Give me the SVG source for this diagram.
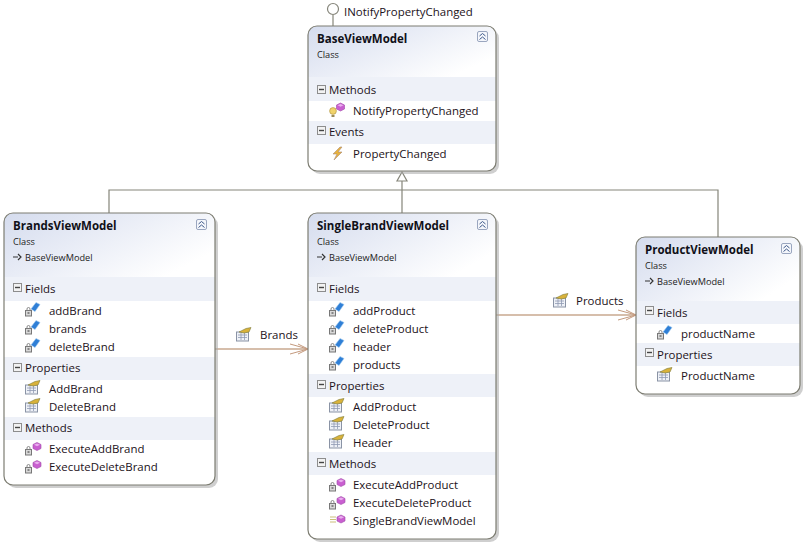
<svg xmlns="http://www.w3.org/2000/svg" width="807" height="545" viewBox="0 0 807 545">
<style>
text{font-family:"Open Sans","Noto Sans","Liberation Sans",sans-serif;font-size:11.45px;fill:#1c1220}
.t{font-size:11.5px;font-weight:700;fill:#101018}
.s{font-size:9.2px;fill:#222}
.box{fill:none;stroke:#7d7d72;stroke-width:1.2}
.shadow{fill:#a8a8a8;opacity:.55}
.band{fill:#eef1f8}
.inh{fill:none;stroke:#85857a;stroke-width:1.2}
.assoc{fill:none;stroke:#c9a88f;stroke-width:1.6}
.head{fill:none;stroke:#c49a7e;stroke-width:1}
.btn{fill:#f4f6fb;stroke:#9aa6bf;stroke-width:1}
.chev{fill:none;stroke:#3f5a8a;stroke-width:1}
</style>
<defs>
<linearGradient id="hd" x1="0" y1="0" x2="1" y2="0.6"><stop offset="0" stop-color="#d5dcee"/><stop offset="1" stop-color="#ffffff"/></linearGradient>
<symbol id="collapse" overflow="visible"><rect class="btn" x="0.5" y="0.5" width="10" height="10" rx="1.5"/><path class="chev" d="M2.5 5 5.500 2.500 8.500 5M2.500 8.500 5.500 6 8.500 8.500"/></symbol>
<symbol id="minus" overflow="visible"><rect x="0.5" y="0.5" width="8" height="8" fill="#f2f2f2" stroke="#8d8d8d"/><path d="M2 4.500H7" stroke="#444" stroke-width="1.400"/></symbol>
<symbol id="lock" overflow="visible"><rect x="0.5" y="3.500" width="6" height="5.500" fill="#d8d8d8" stroke="#777"/><path d="M2 3.500V2A1.500 1.500 0 0 1 5 2V3.500" fill="none" stroke="#888"/><path d="M2.500 6H4.500" stroke="#333"/></symbol>
<symbol id="field" overflow="visible"><use href="#lock" x="0" y="5"/><path d="M6 7 11 0.500 15 2.500 10 9.500Z" fill="#2f7fd6" stroke="#9cc7ee" stroke-width="0.600"/></symbol>
<symbol id="prop" overflow="visible"><rect x="0.500" y="5" width="12" height="9" fill="#eef1f7" stroke="#8a93a5"/><path d="M2 8H11M2 10.500H11M5 6V13M8.500 6V13" stroke="#8f9bb2" stroke-width="0.800"/><path d="M3 5 10 1.500 15 0.500 13 5 8 6Z" fill="#d9b23a" stroke="#7c7a3a" stroke-width="0.600"/></symbol>
<symbol id="cube" overflow="visible"><path d="M4 0 8 2V6L4 8 0 6V2Z" fill="#c95fd0" stroke="#a04aa8" stroke-width="0.600"/><path d="M4 1 7 2.300 4 3.800 1 2.300Z" fill="#eab0ef"/></symbol>
<symbol id="pmeth" overflow="visible"><use href="#lock" x="0" y="4"/><use href="#cube" x="8" y="0.500"/></symbol>
<symbol id="ctor" overflow="visible"><path d="M1 3H7M1 5.500H7M1 8H7" stroke="#cbbf7a" stroke-width="1"/><use href="#cube" x="8" y="1"/></symbol>
<symbol id="bulb" overflow="visible"><circle cx="4" cy="8" r="3.400" fill="#f1d36a" stroke="#a98f3c" stroke-width="0.600"/><path d="M2.500 12H5.500V14H2.500Z" fill="#9a8a58"/><use href="#cube" x="7.500" y="0"/></symbol>
<symbol id="bolt" overflow="visible"><path d="M9 0 2 7 6 7 3 13 11 5 7 5 11 0Z" fill="#e8b23c" stroke="#a88a78" stroke-width="0.600"/></symbol>
<symbol id="inherit" overflow="visible"><path d="M0 4H5M5 1 8 4 5 7" fill="none" stroke="#333" stroke-width="1.200"/></symbol>
</defs>

<g id="connectors">
<path class="inh" d="M333 15V26"/>
<circle class="inh" cx="333" cy="9" r="5.500" style="fill:#fff"/>
<path class="inh" d="M109 213V190H718V237M402 213V181"/>
<path d="M402 172 397 181H407Z" fill="#fff" stroke="#85857a" stroke-width="1.200"/>
<path class="assoc" d="M215 349H307"/>
<path class="head" d="M290 344 308 349 290 354M298 344 308 349 298 354"/>
<path class="assoc" d="M496 315H635"/>
<path class="head" d="M618 310 636 315 618 320M626 310 636 315 626 320"/>
</g>

<g id="label-brands"><use href="#prop" x="236" y="327"/><text x="260" y="339">Brands</text></g>
<g id="label-products"><use href="#prop" x="553" y="293"/><text x="576" y="305">Products</text></g>

<g id="BaseViewModel">
<rect class="shadow" x="311" y="29" width="188" height="145" rx="9"/>
<rect x="308" y="26" width="188" height="145" rx="9" fill="#fff"/>
<path d="M308 77V35a9 9 0 0 1 9-9H487a9 9 0 0 1 9 9V77Z" fill="url(#hd)"/>
<rect class="band" x="308" y="77" width="188" height="24"/>
<rect class="band" x="308" y="121" width="188" height="23"/>
<rect class="box" x="308" y="26" width="188" height="145" rx="9"/>
<text class="t" x="317" y="43">BaseViewModel</text>
<text class="s" x="317" y="58">Class</text>
<use href="#collapse" x="477" y="31"/>
<use href="#minus" x="317" y="85"/><text x="329" y="94">Methods</text>
<use href="#bulb" x="329" y="103"/><text x="353" y="115">NotifyPropertyChanged</text>
<use href="#minus" x="317" y="126"/><text x="329" y="136">Events</text>
<use href="#bolt" x="331" y="147"/><text x="353" y="158">PropertyChanged</text>
<text x="344" y="16">INotifyPropertyChanged</text>
</g>

<g id="BrandsViewModel">
<rect class="shadow" x="7" y="216" width="211" height="272" rx="9"/>
<rect x="4" y="213" width="211" height="272" rx="9" fill="#fff"/>
<path d="M4 277V222a9 9 0 0 1 9-9H206a9 9 0 0 1 9 9V277Z" fill="url(#hd)"/>
<rect class="band" x="4" y="277" width="211" height="24"/>
<rect class="band" x="4" y="357" width="211" height="23"/>
<rect class="band" x="4" y="417" width="211" height="23"/>
<rect class="box" x="4" y="213" width="211" height="272" rx="9"/>
<text class="t" x="13" y="230">BrandsViewModel</text>
<text class="s" x="13" y="245">Class</text>
<use href="#inherit" x="13" y="253"/><text class="s" x="25" y="261">BaseViewModel</text>
<use href="#collapse" x="196" y="219"/>
<use href="#minus" x="13" y="283"/><text x="25" y="293">Fields</text>
<use href="#field" x="25" y="302"/><text x="49" y="315">addBrand</text>
<use href="#field" x="25" y="320"/><text x="49" y="333">brands</text>
<use href="#field" x="25" y="338"/><text x="49" y="351">deleteBrand</text>
<use href="#minus" x="13" y="363"/><text x="25" y="372">Properties</text>
<use href="#prop" x="25" y="380"/><text x="49" y="393">AddBrand</text>
<use href="#prop" x="25" y="398"/><text x="49" y="411">DeleteBrand</text>
<use href="#minus" x="13" y="423"/><text x="25" y="432">Methods</text>
<use href="#pmeth" x="25" y="442"/><text x="49" y="453">ExecuteAddBrand</text>
<use href="#pmeth" x="25" y="460"/><text x="49" y="471">ExecuteDeleteBrand</text>
</g>

<g id="SingleBrandViewModel">
<rect class="shadow" x="311" y="216" width="188" height="326" rx="9"/>
<rect x="308" y="213" width="188" height="326" rx="9" fill="#fff"/>
<path d="M308 277V222a9 9 0 0 1 9-9H487a9 9 0 0 1 9 9V277Z" fill="url(#hd)"/>
<rect class="band" x="308" y="277" width="188" height="24"/>
<rect class="band" x="308" y="374" width="188" height="23"/>
<rect class="band" x="308" y="452" width="188" height="23"/>
<rect class="box" x="308" y="213" width="188" height="326" rx="9"/>
<text class="t" x="317" y="230">SingleBrandViewModel</text>
<text class="s" x="317" y="245">Class</text>
<use href="#inherit" x="317" y="253"/><text class="s" x="329" y="261">BaseViewModel</text>
<use href="#collapse" x="477" y="219"/>
<use href="#minus" x="317" y="283"/><text x="329" y="293">Fields</text>
<use href="#field" x="329" y="302"/><text x="353" y="315">addProduct</text>
<use href="#field" x="329" y="320"/><text x="353" y="333">deleteProduct</text>
<use href="#field" x="329" y="338"/><text x="353" y="351">header</text>
<use href="#field" x="329" y="356"/><text x="353" y="369">products</text>
<use href="#minus" x="317" y="380"/><text x="329" y="390">Properties</text>
<use href="#prop" x="329" y="398"/><text x="353" y="411">AddProduct</text>
<use href="#prop" x="329" y="416"/><text x="353" y="429">DeleteProduct</text>
<use href="#prop" x="329" y="434"/><text x="353" y="447">Header</text>
<use href="#minus" x="317" y="458"/><text x="329" y="468">Methods</text>
<use href="#pmeth" x="329" y="478"/><text x="353" y="489">ExecuteAddProduct</text>
<use href="#pmeth" x="329" y="496"/><text x="353" y="507">ExecuteDeleteProduct</text>
<use href="#ctor" x="329" y="514"/><text x="353" y="525">SingleBrandViewModel</text>
</g>

<g id="ProductViewModel">
<rect class="shadow" x="639" y="240" width="164" height="157" rx="9"/>
<rect x="636" y="237" width="164" height="157" rx="9" fill="#fff"/>
<path d="M636 301V246a9 9 0 0 1 9-9H791a9 9 0 0 1 9 9V301Z" fill="url(#hd)"/>
<rect class="band" x="636" y="301" width="164" height="23"/>
<rect class="band" x="636" y="343" width="164" height="23"/>
<rect class="box" x="636" y="237" width="164" height="157" rx="9"/>
<text class="t" x="645" y="254">ProductViewModel</text>
<text class="s" x="645" y="269">Class</text>
<use href="#inherit" x="645" y="277"/><text class="s" x="657" y="285">BaseViewModel</text>
<use href="#collapse" x="781" y="243"/>
<use href="#minus" x="645" y="306"/><text x="657" y="317">Fields</text>
<use href="#field" x="657" y="325"/><text x="681" y="338">productName</text>
<use href="#minus" x="645" y="348"/><text x="657" y="359">Properties</text>
<use href="#prop" x="657" y="367"/><text x="681" y="380">ProductName</text>
</g>
</svg>
